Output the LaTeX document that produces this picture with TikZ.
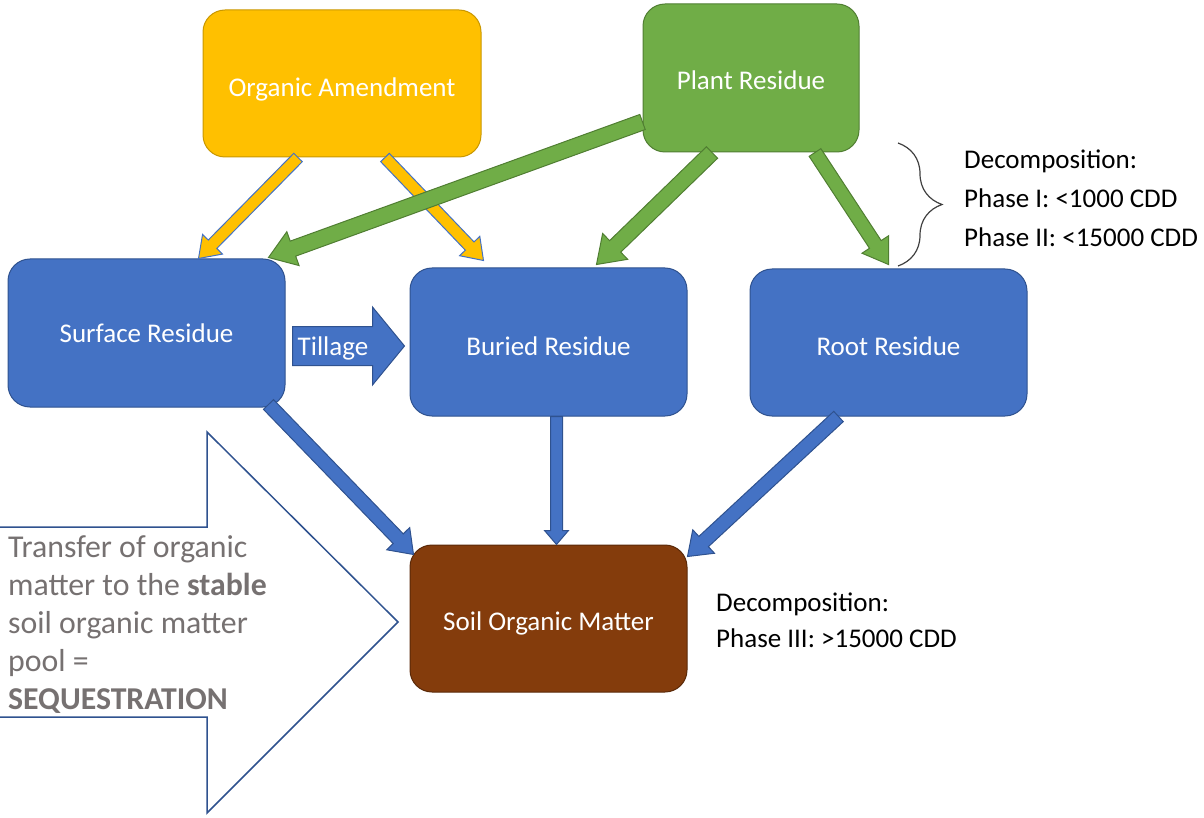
\documentclass[tikz,border=0pt]{standalone}
\usepackage{fontspec}
\setmainfont{Carlito}
\usetikzlibrary{calc,decorations.pathreplacing}
\definecolor{orf}{HTML}{FFC000}
\definecolor{ord}{HTML}{C99700}
\definecolor{grf}{HTML}{70AD47}
\definecolor{grd}{HTML}{507E32}
\definecolor{blf}{HTML}{4472C4}
\definecolor{bld}{HTML}{2F528F}
\definecolor{brf}{HTML}{843C0C}
\definecolor{brd}{HTML}{5A2908}
\definecolor{gtx}{HTML}{767171}
\newcommand{\blockarr}[6]{%
  \coordinate (ba) at (#2);
  \coordinate (bb) at (#3);
  \coordinate (bh) at ($(bb)!#6!(ba)$);
  \filldraw[#1] ($(ba)!#4!90:(bb)$) -- ($(bh)!#4!90:(bb)$) -- ($(bh)!#5!90:(bb)$) -- (bb)
    -- ($(bh)!#5!-90:(bb)$) -- ($(bh)!#4!-90:(bb)$) -- ($(ba)!#4!-90:(bb)$) -- cycle;
}
\begin{document}
\begin{tikzpicture}[x=1pt,y=-1pt,
  box/.style={rounded corners=22pt, minimum width=277pt, minimum height=147pt, line width=1pt,
    text=white, inner sep=0pt, text depth=0pt, font=\fontsize{27}{32}\selectfont},
  obox/.style={box, fill=orf, draw=ord},
  gbox/.style={box, fill=grf, draw=grd},
  bbox/.style={box, fill=blf, draw=bld},
  rbox/.style={box, fill=brf, draw=brd},
  oarr/.style={fill=orf, draw=blf, line width=1pt},
  garr/.style={fill=grf, draw=grd, line width=1pt},
  barr/.style={fill=blf, draw=bld, line width=1pt},
  note/.style={align=left, inner sep=0pt, anchor=west, font=\fontsize{27}{39}\selectfont},
]
\useasboundingbox (0,0) rectangle (1204,818);
% big outline arrow
\draw[bld, line width=1.5pt, fill=white] (0,527) -- (207,527) -- (207,432) -- (398,622) -- (207,813) -- (207,717) -- (0,717);
\node[note, anchor=west, text=gtx, font=\fontsize{31.8}{38}\selectfont] (seq) at (8,625)
  {Transfer of organic\\matter to the \textbf{stable}\\soil organic matter\\pool =\\\textbf{SEQUESTRATION}};
% boxes
\node[obox, minimum width=278pt, text height=27pt] (oa) at (342,83.5) {Organic Amendment};
\node[gbox, minimum width=216pt, minimum height=148pt, text height=23pt] (pr) at (751,78) {Plant Residue};
\node[bbox, minimum height=148pt, text height=19pt] (sr) at (146.5,333) {Surface Residue};
\node[bbox, minimum height=148pt, text height=27pt] (br) at (548.5,342) {Buried Residue};
\node[bbox, text height=26pt] (rr) at (888.5,342.5) {Root Residue};
\node[rbox, text height=23pt] (som) at (548.5,618.5) {Soil Organic Matter};
% arrows
\blockarr{oarr}{$(oa.south)+(-44,0)$}{$(sr.north)+(52,0)$}{6pt}{14pt}{20pt}
\blockarr{oarr}{$(oa.south)+(43,0)$}{$(br.north)+(-65,-7)$}{6pt}{14pt}{20pt}
\blockarr{garr}{$(pr.west)+(0,44)$}{$(sr.north east)+(-17,-1)$}{8pt}{18pt}{26pt}
\blockarr{garr}{$(pr.south)+(-39,0)$}{$(br.north)+(48,-3)$}{8pt}{18pt}{26pt}
\blockarr{garr}{$(pr.south)+(64,0)$}{$(rr.north)+(0,-4)$}{7pt}{16pt}{24pt}
\blockarr{barr}{$(sr.south)+(122,-3)$}{$(som.north west)+(4,10)$}{7pt}{16pt}{22pt}
\blockarr{barr}{$(br.south)+(8,0)$}{$(som.north)+(8,0)$}{6pt}{12pt}{14pt}
\blockarr{barr}{$(rr.south)+(-50,0)$}{$(som.north east)+(0,12)$}{7pt}{16pt}{22pt}
% tillage
\blockarr{barr}{$(sr.east)+(7,13)$}{$(br.west)+(-5,4)$}{19.5pt}{39pt}{32pt}
\node[text=white, font=\fontsize{27}{32}\selectfont] (till) at (333,348) {Tillage};
% brace and notes
\draw[decorate, decoration={brace, amplitude=44pt}, black!75, line width=1.2pt] (898,143) -- (898,266);
\node[note] (d1) at (964,198) {Decomposition:\\Phase I: <1000 CDD\\Phase II: <15000 CDD};
\node[note, font=\fontsize{27}{36}\selectfont] (d2) at (716,620) {Decomposition:\\Phase III: >15000 CDD};
\end{tikzpicture}
\end{document}
